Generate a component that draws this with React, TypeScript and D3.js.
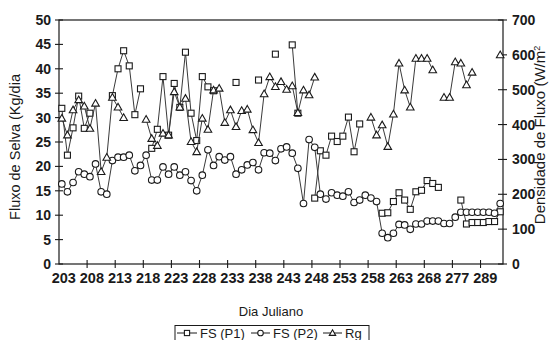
import React from 'react';
import * as d3 from 'd3';

// Julian days (categories)
const days = [
  203, 204, 205, 206, 207, 208, 209, 210, 211, 212,
  213, 214, 215, 216, 217, 218, 219, 220, 221, 222,
  223, 224, 225, 226, 227, 228, 229, 230, 231, 232,
  233, 234, 235, 236, 237, 238, 239, 240, 241, 242,
  243, 244, 245, 246, 247, 248, 249, 250, 251, 252,
  253, 254, 255, 256, 257, 258, 259, 260, 261, 262,
  263, 264, 265, 266, 267, 268, 269, 270, 271, 272,
  277, 279, 281, 284, 286, 289, 290, 291, 292,
];

const labelDays = [203, 208, 213, 218, 223, 228, 233, 238, 243, 248, 253, 258, 263, 268, 277, 289];

// FS (P1), Kg/dia
const fsP1 = [
  31.9, 22.3, 27.9, 34.4, 27.8, 30.9, null, null, null, 34.5,
  40.0, 43.7, 40.6, 30.6, 35.9, null, 23.7, 27.6, 38.4, 26.4,
  37.0, 32.1, 43.4, 30.9, 25.3, 38.4, 36.3, 35.5, null, null,
  null, 37.2, null, null, null, 37.7, null, null, 43.0, null,
  null, 44.9, 30.9, null, null, 13.5, 23.2, 22.3, 26.2, 25.1,
  26.2, 30.1, 23.0, 28.7, null, null, null, 10.4, 10.5, 12.8,
  14.6, 13.1, 11.2, 14.8, 15.1, 17.1, 16.5, 15.7, null, null,
  null, 13.1, 8.2, 8.5, 8.5, 8.5, 8.7, 8.7, 10.7,
];

// FS (P2), Kg/dia
const fsP2 = [
  16.4, 14.8, 16.7, 18.9, 18.4, 17.9, 20.5, 14.8, 14.3, 21.2,
  21.9, 21.9, 22.3, 19.1, 20.2, 22.3, 17.2, 17.2, 19.9, 18.4,
  19.9, 18.2, 18.9, 17.1, 15.0, 18.2, 23.4, 20.2, 22.0, 21.3,
  22.0, 18.4, 19.3, 20.3, 20.8, 19.3, 22.8, 22.7, 21.2, 23.6,
  24.0, 22.7, 19.6, 12.4, 25.5, 23.9, 14.3, 13.3, 14.6, 14.1,
  13.9, 14.8, 12.6, 13.1, 14.1, 13.5, 12.8, 6.3, 5.4, 6.3,
  8.1, 8.0, 7.1, 8.2, 8.2, 8.8, 8.8, 8.8, 8.3, 8.3,
  9.6, 10.6, 10.6, 10.6, 10.6, 10.6, 10.6, 10.4, 12.4,
];

// Rg, W/m2
const rg = [
  418, 370, 442, 471, 453, 389, 461, 265, 306, 478,
  450, 420, null, null, null, 415, 360, 340, 375, 370,
  494, 450, 475, 351, 322, 418, 386, 499, 504, 406,
  442, 394, 440, 444, 385, 348, 488, 537, 509, 523,
  501, 511, 434, 499, 485, 536, null, null, null, null,
  null, null, null, null, null, 421, 370, 399, 337, 430,
  576, 499, 450, 590, 590, 590, 557, null, 478, 478,
  580, 576, 514, 550, null, null, null, null, 600,
];

const leftTicks = [0, 5, 10, 15, 20, 25, 30, 35, 40, 45, 50];
const rightTicks = [0, 100, 200, 300, 400, 500, 600, 700];

const font = "'Liberation Sans', Arial, sans-serif";
const ink = '#1a1a1a';
const lineCol = '#3a3a3a';

const x0 = 59, x1 = 503, yTop = 20, yBot = 264;

const Square = ({ x, y, s = 3 }: { x: number; y: number; s?: number }) => (
  <rect x={x - s} y={y - s} width={s * 2} height={s * 2} fill="#fff" stroke={ink} strokeWidth={1.1} />
);
const Circle = ({ x, y, r = 3.3 }: { x: number; y: number; r?: number }) => (
  <circle cx={x} cy={y} r={r} fill="#fff" stroke={ink} strokeWidth={1.1} />
);
const Tri = ({ x, y, s = 3.8 }: { x: number; y: number; s?: number }) => (
  <path d={`M${x},${y - s}L${x + s},${y + s * 0.75}L${x - s},${y + s * 0.75}Z`} fill="#fff" stroke={ink} strokeWidth={1.1} />
);

export default function App() {
  const idx = days.map((_, i) => i);
  const x = d3.scaleBand<number>().domain(idx).range([x0, x1]).paddingInner(0).paddingOuter(0);
  const cx = (i: number) => (x(i) as number) + x.bandwidth() / 2;
  const yL = d3.scaleLinear().domain([0, 50]).range([yBot, yTop]);
  const yR = d3.scaleLinear().domain([0, 700]).range([yBot, yTop]);

  const mkLine = (y: d3.ScaleLinear<number, number>) =>
    d3.line<number | null>()
      .defined((d) => d !== null)
      .x((_, i) => cx(i))
      .y((d) => y(d as number));

  const series = [
    { data: fsP1, y: yL, mark: 'sq' },
    { data: fsP2, y: yL, mark: 'ci' },
    { data: rg, y: yR, mark: 'tr' },
  ];

  const tickIdx = [5, 10, 15, 20, 25, 30, 35, 40, 45, 50, 55, 60, 65, 70, 75];

  return (
    <svg width={550} height={340} style={{ position: 'absolute', left: 0, top: 0, background: '#fff' }}>
      {/* frame */}
      <rect x={x0} y={yTop} width={x1 - x0} height={yBot - yTop} fill="none" stroke={ink} strokeWidth={1.2} />

      {/* left axis ticks */}
      {leftTicks.map((t) => (
        <g key={'l' + t}>
          <line x1={x0 - 4} x2={x0 + 4} y1={yL(t)} y2={yL(t)} stroke={ink} strokeWidth={1.1} />
          <text x={x0 - 8} y={yL(t) + 5} textAnchor="end" fontFamily={font} fontWeight="bold" fontSize={14} fill={ink}>{t}</text>
        </g>
      ))}
      {/* right axis ticks */}
      {rightTicks.map((t) => (
        <g key={'r' + t}>
          <line x1={x1 - 5} x2={x1 + 4} y1={yR(t)} y2={yR(t)} stroke={ink} strokeWidth={1.1} />
          <text x={x1 + 9} y={yR(t) + 5} textAnchor="start" fontFamily={font} fontWeight="bold" fontSize={14} fill={ink}>{t}</text>
        </g>
      ))}
      {/* bottom ticks */}
      {tickIdx.map((i) => (
        <line key={'b' + i} x1={x(i) as number} x2={x(i) as number} y1={yBot - 4} y2={yBot + 4} stroke={ink} strokeWidth={1.1} />
      ))}
      {labelDays.map((d) => {
        const i = days.indexOf(d);
        return (
          <text key={'bl' + d} x={cx(i) + 2} y={283} textAnchor="middle" fontFamily={font} fontWeight="bold" fontSize={14.5} fill={ink}>{d}</text>
        );
      })}

      {/* axis titles */}
      <text transform="translate(20,147) rotate(-90)" textAnchor="middle" fontFamily={font} fontSize={14.5} fill={ink}>Fluxo de Selva (Kg/dia</text>
      <text transform="translate(545,135) rotate(-90)" textAnchor="middle" fontFamily={font} fontSize={15} fill={ink}>
        Densidade de Fluxo (W/m<tspan dy={-5} fontSize={9}>2</tspan>
      </text>
      <text x={271} y={316} textAnchor="middle" fontFamily={font} fontSize={13} fill={ink}>Dia Juliano</text>

      {/* series */}
      {series.map((s, k) => (
        <g key={'s' + k}>
          <path d={mkLine(s.y)(s.data) || ''} fill="none" stroke={lineCol} strokeWidth={1} />
          {s.data.map((v, i) => {
            if (v === null) return null;
            const px = cx(i), py = s.y(v);
            if (s.mark === 'sq') return <Square key={i} x={px} y={py} />;
            if (s.mark === 'ci') return <Circle key={i} x={px} y={py} />;
            return <Tri key={i} x={px} y={py} />;
          })}
        </g>
      ))}

      {/* legend */}
      <rect x={175} y={325.5} width={194} height={15} fill="#fff" stroke={ink} strokeWidth={1} />
      <line x1={177} x2={197} y1={333} y2={333} stroke={ink} />
      <Square x={187} y={333} s={2.6} />
      <text x={200} y={338} fontFamily={font} fontSize={13} fill={ink}>FS (P1)</text>
      <line x1={251} x2={270} y1={333} y2={333} stroke={ink} />
      <Circle x={260.5} y={333} r={2.8} />
      <text x={273} y={338} fontFamily={font} fontSize={13} fill={ink}>FS (P2)</text>
      <line x1={323} x2={342} y1={333} y2={333} stroke={ink} />
      <Tri x={332.5} y={333} s={3.2} />
      <text x={345} y={338} fontFamily={font} fontSize={13} fill={ink}>Rg</text>
    </svg>
  );
}
